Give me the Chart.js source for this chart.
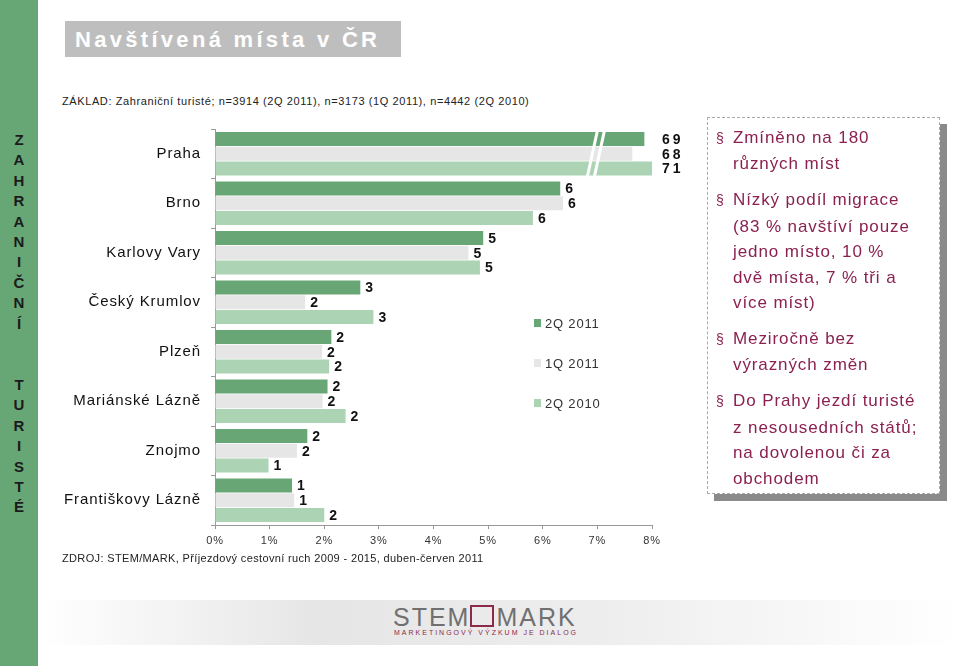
<!DOCTYPE html>
<html>
<head>
<meta charset="utf-8">
<script src="https://cdn.jsdelivr.net/npm/chart.js@4.4.0/dist/chart.umd.min.js"></script>
<style>
  body { margin: 0; width: 960px; height: 666px; position: relative; background: #fff; overflow: hidden;
         font-family: "Liberation Sans", Arial, sans-serif; }
  #strip { position: absolute; left: 0; top: 0; width: 38px; height: 666px; background: #67a675; }
  #vert { position: absolute; left: 0; top: 130px; width: 38px; text-align: center; font-weight: bold;
          font-size: 15px; line-height: 20.4px; color: #1b1b1b; }
  #title { position: absolute; left: 65px; top: 21px; width: 336px; height: 36px; background: #bebebe; color: #fff;
           font-weight: bold; font-size: 22px; letter-spacing: 3.3px; line-height: 38px; padding-left: 10px; box-sizing: border-box; white-space: nowrap; }
  .note { position: absolute; left: 62px; font-size: 11px; color: #222; white-space: nowrap; }
  #chartbox { position: absolute; left: 40px; top: 110px; width: 680px; height: 450px; }
  #box { position: absolute; left: 707px; top: 117px; width: 233px; height: 377px; border: 1px dashed #aaa;
         background: #fff; box-shadow: 7px 7px 0 #8a8a8a; box-sizing: border-box; padding: 7px 0 0 8px;
         color: #8a2150; font-size: 17px; line-height: 25.4px; letter-spacing: 0.9px; white-space: nowrap; }
  #box p { margin: 0 0 10.6px 0; padding-left: 17px; text-indent: -17px; }
  #box .b { display: inline-block; width: 17px; text-indent: 0; font-size: 14px; letter-spacing: 0; }
  #band { position: absolute; left: 40px; top: 600px; width: 920px; height: 45px;
          background: linear-gradient(to right, #fff 0%, #e6e6e6 30%, #ededed 60%, #fff 100%); }
  #logo { position: absolute; left: 393px; top: 603px; font-size: 25px; letter-spacing: 2px; color: #707070; font-weight: 300; white-space: nowrap; }
  #sq { display: inline-block; width: 20px; height: 18px; border: 2px solid #8b2a4a; vertical-align: -1px; margin: 0 2px 0 0; position: relative; }
  #sub { position: absolute; left: 394px; top: 629px; font-size: 7px; letter-spacing: 2px; color: #8b2a4a; white-space: nowrap; }
</style>
</head>
<body>
<div id="strip"></div>
<div id="vert">Z<br>A<br>H<br>R<br>A<br>N<br>I<br>Č<br>N<br>Í<br><br><br>T<br>U<br>R<br>I<br>S<br>T<br>É</div>
<div id="title">Navštívená místa v ČR</div>
<div class="note" style="top:95px; letter-spacing:0.6px">ZÁKLAD: Zahraniční turisté; n=3914 (2Q 2011), n=3173 (1Q 2011), n=4442 (2Q 2010)</div>
<div id="chartbox"><canvas id="chart"></canvas></div>
<div class="note" style="top:552px; letter-spacing:0.35px">ZDROJ: STEM/MARK, Příjezdový cestovní ruch 2009 - 2015, duben-červen 2011</div>
<div id="box">
  <p><span class="b">§</span>Zmíněno na 180<br>různých míst</p>
  <p><span class="b">§</span>Nízký podíl migrace<br>(83 % navštíví pouze<br>jedno místo, 10 %<br>dvě místa, 7 % tři a<br>více míst)</p>
  <p><span class="b">§</span>Meziročně bez<br>výrazných změn</p>
  <p><span class="b">§</span>Do Prahy jezdí turisté<br>z nesousedních států;<br>na dovolenou či za<br>obchodem</p>
</div>
<div id="band"></div>
<div id="logo">STEM<span id="sq"></span>MARK</div>
<div id="sub">MARKETINGOVÝ VÝZKUM JE DIALOG</div>

<script>
const CITIES = ['Praha', 'Brno', 'Karlovy Vary', 'Český Krumlov', 'Plzeň', 'Mariánské Lázně', 'Znojmo', 'Františkovy Lázně'];
const SERIES = ['2Q 2011', '1Q 2011', '2Q 2010'];
const Q2_2011 = [69, 6.32, 4.91, 2.66, 2.13, 2.06, 1.69, 1.41];
const Q1_2011 = [68, 6.37, 4.64, 1.65, 1.96, 1.97, 1.50, 1.45];
const Q2_2010 = [71, 5.82, 4.85, 2.90, 2.09, 2.39, 0.98, 2.00];
const X_TICKS = [0, 1, 2, 3, 4, 5, 6, 7, 8];
const COLORS = ['#68a676', '#e6e6e6', '#acd3b3'];

const AXIS_MAX = 8;
const BREAK_AT = 7;

// values beyond the axis are squeezed past the break
const shown = v => v > AXIS_MAX ? 7.2 + (v - 66) * 0.22 : v;

const spacing = {
  id: 'spacing',
  beforeDraw(chart) { chart.ctx.letterSpacing = '0.9px'; }
};

const extras = {
  id: 'extras',
  afterDatasetsDraw(chart) {
    const ctx = chart.ctx;
    const area = chart.chartArea;
    const xs = chart.scales.x;
    ctx.save();
    ctx.textBaseline = 'middle';
    ctx.fillStyle = '#111';
    ctx.font = 'bold 14px "Liberation Sans", Arial, sans-serif';
    chart.data.datasets.forEach((ds, di) => {
      chart.getDatasetMeta(di).data.forEach((bar, i) => {
        const v = ds.raw[i];
        if (v > AXIS_MAX) {
          ctx.letterSpacing = '3px';
          ctx.fillText(String(v), area.right + 10, bar.y + 1);
        } else {
          ctx.letterSpacing = '0px';
          ctx.fillText(String(Math.round(v)), bar.x + 5, bar.y + 1);
        }
      });
    });
    // break marks across the first group
    const first = chart.getDatasetMeta(0).data[0];
    const last = chart.getDatasetMeta(2).data[0];
    const top = first.y - first.height / 2 - 1;
    const bot = last.y + last.height / 2 + 1;
    const bx = xs.getPixelForValue(BREAK_AT);
    ctx.strokeStyle = '#fff';
    ctx.lineWidth = 3;
    [0, 7].forEach(off => {
      ctx.beginPath();
      ctx.moveTo(bx + off, top);
      ctx.lineTo(bx + off - 10, bot);
      ctx.stroke();
    });
    // legend
    ctx.letterSpacing = '0.8px';
    ctx.font = '13px "Liberation Sans", Arial, sans-serif';
    SERIES.forEach((name, i) => {
      const lx = area.left + 319;
      const ly = area.top + 194 + i * 40;
      ctx.fillStyle = COLORS[i];
      ctx.fillRect(lx, ly - 4, 7, 8);
      ctx.fillStyle = '#333';
      ctx.fillText(name, lx + 11, ly + 1);
    });
    ctx.restore();
  }
};

const rows = [Q2_2011, Q1_2011, Q2_2010];

new Chart(document.getElementById('chart'), {
  type: 'bar',
  data: {
    labels: CITIES,
    datasets: SERIES.map((name, i) => ({
      label: name,
      raw: rows[i],
      data: rows[i].map(shown),
      backgroundColor: COLORS[i],
      borderWidth: 0,
      categoryPercentage: 0.9,
      barPercentage: 0.94
    }))
  },
  options: {
    indexAxis: 'y',
    responsive: true,
    maintainAspectRatio: false,
    animation: false,
    layout: { padding: { top: 9, right: 68, left: 0, bottom: 0 } },
    plugins: { legend: { display: false }, tooltip: { enabled: false } },
    scales: {
      x: {
        min: 0,
        max: AXIS_MAX,
        afterBuildTicks: s => { s.ticks = X_TICKS.map(v => ({ value: v })); },
        ticks: { callback: v => v + '%', color: '#333', font: { size: 11 }, padding: 5 },
        grid: { drawOnChartArea: false, tickLength: 4, color: '#999' },
        border: { color: '#999' },
        afterFit: s => { s.height = 35; }
      },
      y: {
        ticks: { color: '#111', font: { size: 15 }, padding: 10 },
        grid: { drawOnChartArea: false, tickLength: 4, color: '#999', offset: true },
        border: { color: '#999' },
        afterFit: s => { s.width = 175; }
      }
    }
  },
  plugins: [spacing, extras]
});
</script>
</body>
</html>
